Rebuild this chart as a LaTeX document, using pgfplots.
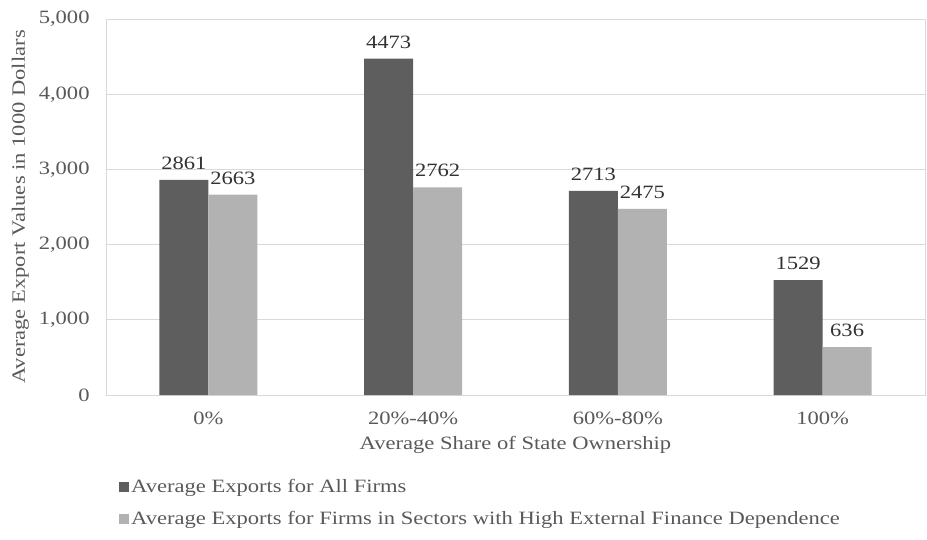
\documentclass[border=0pt]{standalone}
\usepackage{fontspec}
\setmainfont{Liberation Serif}[FakeStretch=1.2]
\usepackage{pgfplots}
\pgfplotsset{compat=1.18}
\definecolor{darkbar}{HTML}{5E5E5E}
\definecolor{lightbar}{HTML}{B2B2B2}
\definecolor{txt}{HTML}{595959}
\definecolor{grid}{HTML}{D9D9D9}
\begin{document}
\fontsize{18.8}{22}\selectfont
\begin{tikzpicture}
\begin{axis}[
  at={(0,0)}, anchor=south west,
  scale only axis, width=819pt, height=376pt,
  ybar, bar width=49pt,
  ymin=0, ymax=5000, ytick={0,1000,2000,3000,4000,5000},
  xmin=-0.5, xmax=3.5, xtick={0,1,2,3},
  xticklabels={0\%,20\%-40\%,60\%-80\%,100\%},
  major tick length=0pt,
  ymajorgrids, grid style={draw=grid, line width=0.8pt},
  axis line style={draw=grid, line width=0.8pt},
  /pgf/number format/assume math mode=true,
  /pgf/number format/1000 sep={,},
  tick label style={font=\fontsize{18.8}{22}\selectfont, text=txt},
  yticklabel style={xshift=-10pt},
  xticklabel style={yshift=-11pt},
  xlabel={Average Share of State Ownership},
  ylabel={Average Export Values in 1000 Dollars},
  label style={font=\fontsize{18.8}{22}\selectfont, text=txt},
  xlabel style={yshift=2pt},
  ylabel style={yshift=-3pt},
  nodes near coords={\pgfmathprintnumber[fixed,precision=0,1000 sep={},assume math mode=true]{\pgfplotspointmeta}},
  nodes near coords style={font=\fontsize{18.8}{22}\selectfont, text=black!80, inner sep=2pt, yshift=8pt},
  legend style={at={(0,0)}, anchor=north west, xshift=13pt, yshift=-82pt,
    draw=none, fill=none, font=\fontsize{18.8}{22}\selectfont, text=txt,
    row sep=12pt, inner sep=0pt, nodes={xshift=4pt}},
  legend cell align=left,
  legend image code/.code={\fill[#1] (0pt,-5pt) rectangle (10pt,5pt);},
]
\addplot[fill=darkbar, draw=none, bar shift=-24.5pt] coordinates {(0,2861) (1,4473) (2,2713) (3,1529)};
\addplot[fill=lightbar, draw=none, bar shift=24.5pt] coordinates {(0,2663) (1,2762) (2,2475) (3,636)};
\legend{Average Exports for All Firms, Average Exports for Firms in Sectors with High External Finance Dependence}
\end{axis}
\pgfresetboundingbox
\path[use as bounding box] (-106pt,-144pt) rectangle (821pt,395pt);
\end{tikzpicture}
\end{document}
